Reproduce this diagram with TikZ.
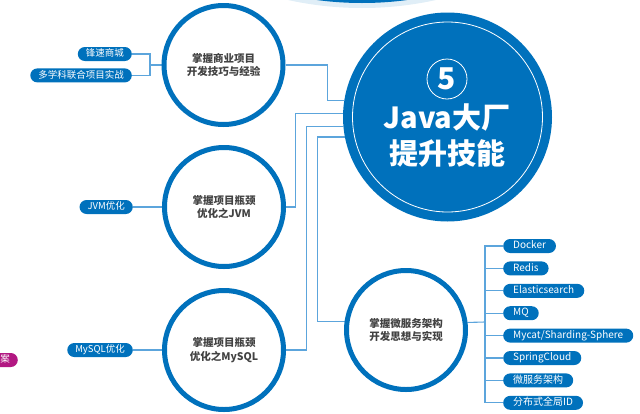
\documentclass[tikz,border=0pt]{standalone}
\usepackage{fontspec}
\setmainfont{Noto Sans CJK SC}
\usetikzlibrary{positioning, backgrounds}
\definecolor{mainblue}{RGB}{0, 113, 188}
\definecolor{linkblue}{RGB}{92, 165, 220}
\definecolor{textgray}{RGB}{66, 66, 66}
\definecolor{pinkmark}{RGB}{178, 24, 130}

\begin{document}
\begin{tikzpicture}[
    x=1pt, y=-1pt,
    topicring/.style={
        circle,
        draw=mainblue,
        line width=5pt,
        fill=white,
        minimum size=119pt,
        inner sep=0pt,
        align=center,
        text=textgray,
        font=\fontsize{10.5}{13.5}\selectfont\bfseries
    },
    mainring/.style={circle, fill=mainblue, minimum size=209pt, inner sep=0pt},
    whiteline/.style={circle, draw=white, line width=0.8pt, inner sep=0pt},
    pill/.style={
        rectangle,
        rounded corners=7pt,
        fill=mainblue,
        text=white,
        minimum height=14pt,
        inner xsep=8pt,
        inner ysep=0pt,
        text height=7.5pt,
        text depth=2pt,
        font=\fontsize{9.5}{12}\selectfont
    },
    toolpill/.style={pill, inner xsep=10pt, font=\fontsize{10}{12}\selectfont},
    pinkpill/.style={pill, fill=pinkmark},
    link/.style={draw=linkblue, line width=1.1pt}
]

    \useasboundingbox (0,0) rectangle (640,413);
    \clip (0,0) rectangle (640,413);

    % --- Cut-off neighbours at the edges ---
    \fill[mainblue!12] (362,-335) circle [radius=343pt];
    \fill[mainblue] (362,-335) circle [radius=338pt];
    \node[pinkpill, anchor=east] (cutoff) at (18,360) {\phantom{方}案};

    % --- Centre ---
    \node[mainring] (java) at (447.5,117) {};
    \node[whiteline, minimum size=190pt] (javaring) at (java) {};
    \node[whiteline, minimum size=40pt, text=white,
          font=\fontsize{30}{30}\selectfont\bfseries] (num) at (447,79) {5};
    \node[text=white, align=center, font=\fontsize{29}{36}\selectfont\bfseries]
        (javatitle) at (447,135) {Java大厂\\提升技能};

    % --- Topics ---
    \node[topicring] (biz) at (223.5,65) {掌握商业项目\\开发技巧与经验};
    \node[topicring] (jvm) at (224,207) {掌握项目瓶颈\\优化之JVM};
    \node[topicring] (mysql) at (224,350) {掌握项目瓶颈\\优化之MySQL};
    \node[topicring] (micro) at (406,330) {掌握微服务架构\\开发思想与实现};

    % --- Left items ---
    \node[pill, anchor=east] (fengsu) at (132,54) {锋速商城};
    \node[pill, below=7pt of fengsu.south east, anchor=north east] (xueke) {多学科联合项目实战};
    \node[pill, anchor=east] (jvmopt) at (133,207) {JVM优化};
    \node[pill, anchor=east] (mysqlopt) at (133,350) {MySQL优化};

    % --- Right items ---
    \node[toolpill, anchor=west] (docker) at (503,246) {Docker};
    \node[toolpill, below=8pt of docker.south west, anchor=north west] (redis) {Redis};
    \node[toolpill, below=8pt of redis.south west, anchor=north west] (elastic) {Elasticsearch};
    \node[toolpill, below=8pt of elastic.south west, anchor=north west] (mq) {MQ};
    \node[toolpill, below=8pt of mq.south west, anchor=north west] (mycat) {Mycat/Sharding-Sphere};
    \node[toolpill, below=8pt of mycat.south west, anchor=north west] (springcloud) {SpringCloud};
    \node[toolpill, below=8pt of springcloud.south west, anchor=north west] (weifuwu) {微服务架构};
    \node[toolpill, below=8pt of weifuwu.south west, anchor=north west] (globalid) {分布式全局ID};

    % --- Connectors ---
    \begin{scope}[on background layer]
        \coordinate (bizjoin) at (150,65);
        \draw[link] (fengsu.east) -| (bizjoin) |- (xueke.east);
        \draw[link] (bizjoin) -- (biz.west);
        \draw[link] (jvmopt) -- (jvm);
        \draw[link] (mysqlopt) -- (mysql);

        \draw[link] (biz.east) -| ([xshift=-17pt]java.171.75) -- (java.171.75);
        \draw[link] (jvm.east) -| ([xshift=-47pt]java.178.9) -- (java.178.9);
        \draw[link] (mysql.east) -| ([xshift=-36.5pt]java.185.5) -- (java.185.5);
        \draw[link] (micro.172.6) -| ([xshift=-27pt]java.191.6) -- (java.191.6);

        \coordinate (microjoin) at (485,322);
        \draw[link] (micro.7.4) -- (microjoin);
        \draw[link] (microjoin) |- (docker.west);
        \draw[link] (microjoin) |- (redis.west);
        \draw[link] (microjoin) |- (elastic.west);
        \draw[link] (microjoin) |- (mq.west);
        \draw[link] (microjoin) |- (mycat.west);
        \draw[link] (microjoin) |- (springcloud.west);
        \draw[link] (microjoin) |- (weifuwu.west);
        \draw[link] (microjoin) |- (globalid.west);
    \end{scope}

\end{tikzpicture}
\end{document}
